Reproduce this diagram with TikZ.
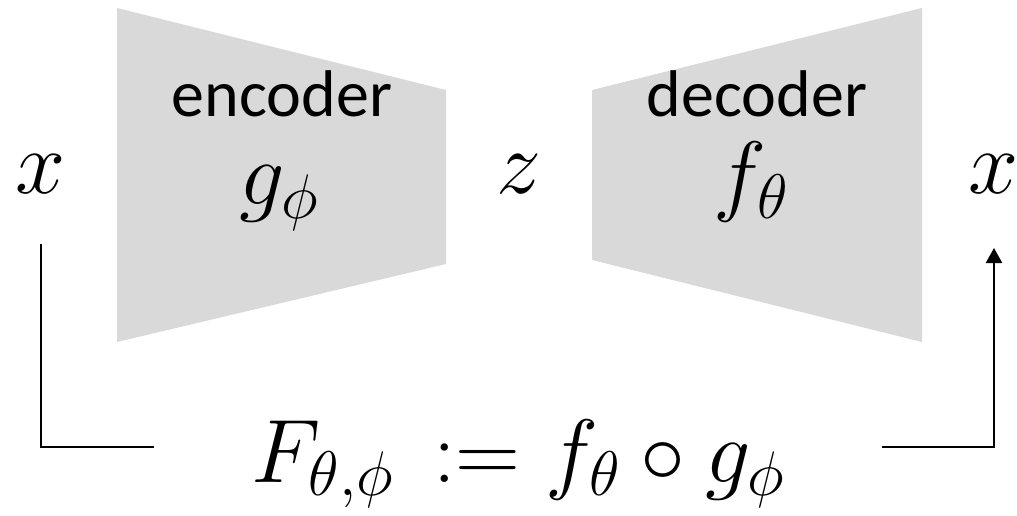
\RequirePackage{fix-cm}
\documentclass[tikz,border=0pt]{standalone}
\usepackage{fontspec}
\newfontfamily\capfont{Carlito}
\usetikzlibrary{arrows.meta}
\definecolor{aeGray}{RGB}{217,217,217}

\begin{document}
\begin{tikzpicture}[
    x=1pt, y=1pt,
    line width=2.5pt,
    block/.style={fill=aeGray, draw=none},
    cap note/.style={font=\capfont\fontsize{66}{70}\selectfont, anchor=base, inner sep=0pt},
    math note/.style={font=\fontsize{90}{94}\selectfont, inner sep=0pt, outer sep=0pt},
    arrow tip/.style={-{Triangle[length=15pt, width=16pt]}}
]
  \useasboundingbox (0,0) rectangle (1017,515);

  \fill[block] (117,507) -- (446,425) -- (446,251) -- (117,173) -- cycle;
  \fill[block] (592,425) -- (922,507) -- (922,173) -- (592,255) -- cycle;

  \node[cap note] (enc) at (282,398) {encoder};
  \node[cap note] (dec) at (757,398) {decoder};
  \node[math note, anchor=base] (g) at (279,310) {$g_\phi$};
  \node[math note, anchor=base] (f) at (751,310) {$f_\theta$};

  \node[math note, minimum height=140pt] (xin) at (41,341) {$x$};
  \node[math note] (z) at (519,341) {$z$};
  \node[math note, minimum height=148pt] (xout) at (994,341) {$x$};

  \node[math note, minimum width=728pt, text height=70pt, text depth=0pt] (F) at (518,68)
    {$F_{\theta,\phi}\, := f_\theta \circ g_\phi$};

  \draw (xin.south) |- (F.west);
  \draw[arrow tip] (F.east) -| (xout.south);
\end{tikzpicture}
\end{document}
